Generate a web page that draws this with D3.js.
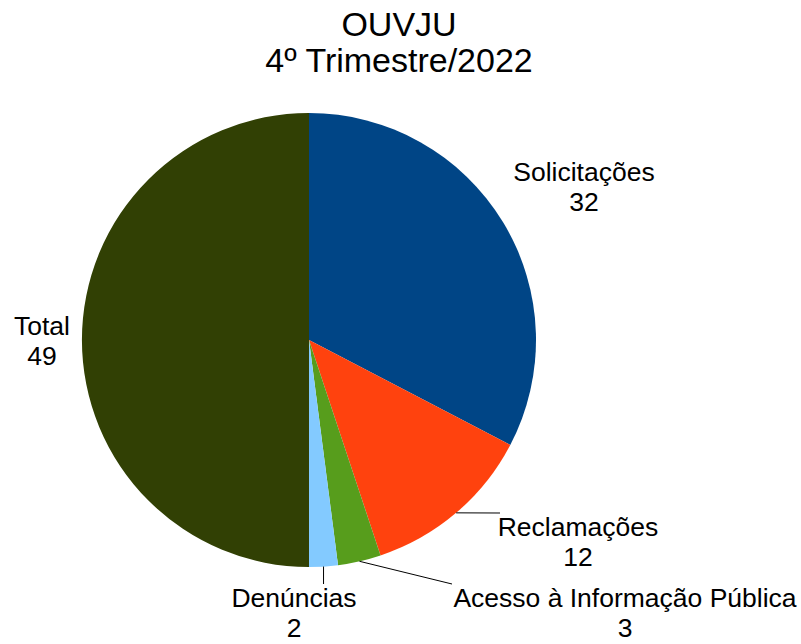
<!DOCTYPE html>
<html><head><meta charset="utf-8">
<script src="https://cdn.jsdelivr.net/npm/d3@7"></script>
<style>body{margin:0;background:#fff}svg{display:block}text{font-family:"Liberation Sans",Arial,sans-serif;fill:#000}</style>
</head><body>
<script>
const categories = ["Solicitações","Reclamações","Acesso à Informação Pública","Denúncias","Total"];
const values = [32,12,3,2,49];
const colors = ["#004586","#ff420e","#579d1c","#83caff","#314004"];
const titleLines = ["OUVJU","4º Trimestre/2022"];

const W=801,H=644,cx=309,cy=340,R=227;
const svg=d3.select("body").append("svg").attr("width",W).attr("height",H);
svg.append("rect").attr("width",W).attr("height",H).attr("fill","#fff");

svg.selectAll("text.title").data(titleLines).join("text").attr("class","title")
  .attr("x",399).attr("y",(d,i)=>36+i*36).attr("text-anchor","middle").attr("font-size",34).text(d=>d);

const pie=d3.pie().sort(null).value(d=>d.v);
const data=pie(categories.map((c,i)=>({c,v:values[i],col:colors[i]})));
const arc=d3.arc().innerRadius(0).outerRadius(R);
const g=svg.append("g").attr("transform",`translate(${cx},${cy})`);
g.selectAll("path").data(data).join("path").attr("d",arc).attr("fill",d=>d.data.col);

// label placements
const labelPos = [
  {x:584,y:181,line:null},
  {x:578,y:536,line:[500,513]},
  {x:625,y:607,line:[452,584]},
  {x:294,y:607,line:[null,584]},
  {x:42,y:335,line:null}
];
data.forEach((d,i)=>{
  const p=labelPos[i];
  if(p.line){
    const a=(d.startAngle+d.endAngle)/2;
    const x1=cx+R*Math.sin(a), y1=cy-R*Math.cos(a);
    const x2=p.line[0]===null?x1:p.line[0];
    const y2=p.line[1];
    svg.append("line").attr("x1",x1).attr("y1",y1).attr("x2",x2).attr("y2",y2)
      .attr("stroke","#000").attr("stroke-width",1);
  }
  const t=svg.append("text").attr("text-anchor","middle").attr("font-size",26.5);
  t.append("tspan").attr("x",p.x).attr("y",p.y).text(d.data.c);
  t.append("tspan").attr("x",p.x).attr("y",p.y+30).text(d.data.v);
});
</script>
</body></html>
